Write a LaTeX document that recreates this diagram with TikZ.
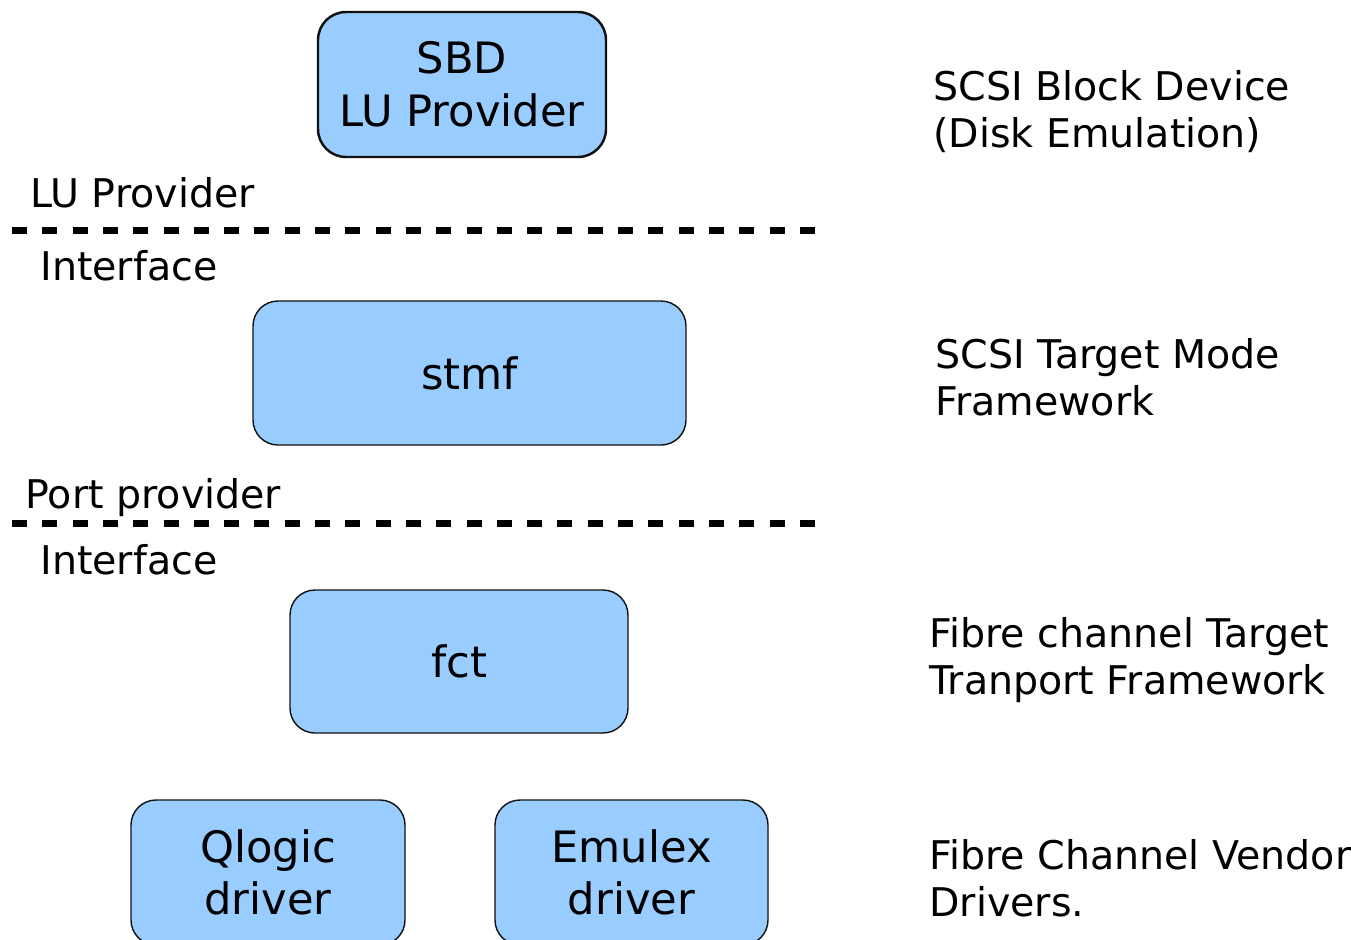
\documentclass[tikz,border=0pt]{standalone}
\usepackage{fontspec}
\setmainfont{DejaVu Sans}
\definecolor{boxfill}{HTML}{99CCFF}
\definecolor{boxline}{HTML}{111111}
\tikzset{
  layerbox/.style={draw=boxline, fill=boxfill, rounded corners=0.5cm, line width=0.8pt,
    inner sep=0pt, align=center, font=\fontsize{24.6}{30}\selectfont},
  sidelabel/.style={anchor=base west, inner sep=0pt, align=left, font=\fontsize{22.5}{26.7}\selectfont},
  divider/.style={line width=0.14cm, dash pattern=on 0.30cm off 0.306cm},
}
\begin{document}
\begin{tikzpicture}
\useasboundingbox (0,0) rectangle (27.02,-18.78);
% boxes
\node[layerbox, line width=1.4pt, rounded corners=0.56cm, minimum width=5.76cm, minimum height=2.90cm] (sbd) at (9.24,-1.69) {SBD\\LU Provider};
\node[layerbox, minimum width=8.66cm, minimum height=2.88cm] (stmf) at (9.39,-7.46) {stmf};
\node[layerbox, minimum width=6.76cm, minimum height=2.86cm] (fct) at (9.18,-13.23) {fct};
\node[layerbox, minimum width=5.48cm, minimum height=2.90cm] (qlogic) at (5.36,-17.45) {Qlogic\\driver};
\node[layerbox, minimum width=5.46cm, minimum height=2.90cm] (emulex) at (12.63,-17.45) {Emulex\\driver};
% dividers
\coordinate (d1a) at (0.24,-4.60);
\coordinate (d1b) at (16.36,-4.60);
\coordinate (d2a) at (0.24,-10.46);
\coordinate (d2b) at (16.36,-10.46);
\draw[divider] (d1a) -- (d1b);
\draw[divider] (d2a) -- (d2b);
% left labels
\node[sidelabel] (lup) at (0.60,-4.14) {LU Provider};
\node[sidelabel] (if1) at (0.80,-5.60) {Interface};
\node[sidelabel] (ppr) at (0.50,-10.16) {Port provider};
\node[sidelabel] (if2) at (0.80,-11.48) {Interface};
% right labels (anchor is at the baseline of the last line)
\node[sidelabel] (r1) at (18.66,-2.94) {SCSI Block Device\\(Disk Emulation)};
\node[sidelabel] (r2) at (18.70,-8.30) {SCSI Target Mode\\Framework};
\node[sidelabel] (r3) at (18.58,-13.88) {Fibre channel Target\\Tranport Framework};
\node[sidelabel] (r4) at (18.58,-18.32) {Fibre Channel Vendor\\Drivers.};
\end{tikzpicture}
\end{document}
